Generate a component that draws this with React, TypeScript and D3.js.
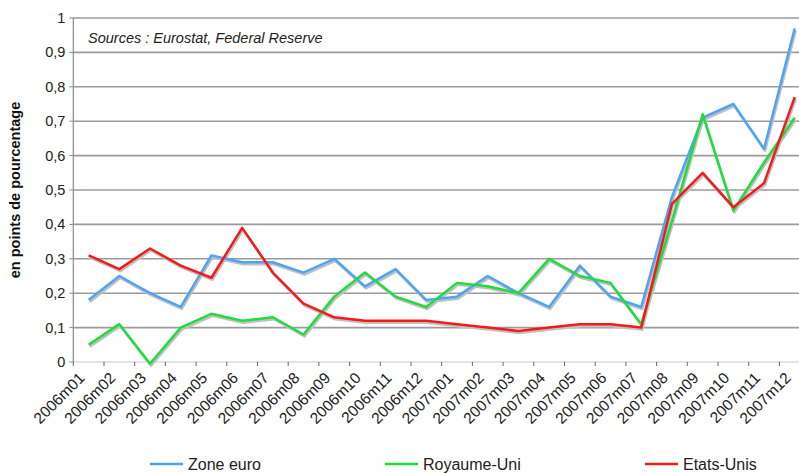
import React from "react";
import * as d3 from "d3";

const categories = [
  "2006m01","2006m02","2006m03","2006m04","2006m05","2006m06","2006m07","2006m08","2006m09","2006m10","2006m11","2006m12",
  "2007m01","2007m02","2007m03","2007m04","2007m05","2007m06","2007m07","2007m08","2007m09","2007m10","2007m11","2007m12",
];
const zoneEuro = [0.18,0.25,0.20,0.16,0.31,0.29,0.29,0.26,0.30,0.22,0.27,0.18,0.19,0.25,0.20,0.16,0.28,0.19,0.16,0.48,0.71,0.75,0.62,0.97];
const royaumeUni = [0.05,0.11,-0.005,0.10,0.14,0.12,0.13,0.08,0.19,0.26,0.19,0.16,0.23,0.22,0.20,0.30,0.25,0.23,0.11,0.41,0.72,0.44,0.58,0.71];
const etatsUnis = [0.31,0.27,0.33,0.28,0.245,0.39,0.26,0.17,0.13,0.12,0.12,0.12,0.11,0.10,0.09,0.10,0.11,0.11,0.10,0.46,0.55,0.45,0.52,0.77];
const yTicks = [0,0.1,0.2,0.3,0.4,0.5,0.6,0.7,0.8,0.9,1];
const seriesNames = ["Zone euro","Royaume-Uni","Etats-Unis"];
const seriesColors = ["#4fa3f5","#1edc3c","#f51a1a"];

export default function App() {
  const W = 799, H = 473;
  const x0 = 73.3, y0 = 362, y1 = 18;
  const x = d3.scaleBand<string>().domain(categories).range([x0, x0 + 24 * 30.7]);
  const y = d3.scaleLinear().domain([0, 1]).range([y0, y1]);
  const line = d3.line<number>()
    .x((_, i) => (x(categories[i]) as number) + x.bandwidth() / 2)
    .y((v) => y(v));
  const data = [zoneEuro, royaumeUni, etatsUnis];
  const font = "Arial, 'Liberation Sans', sans-serif";
  const fmt = (v: number) => (v === 0 ? "0" : v === 1 ? "1" : d3.format(".1f")(v).replace(".", ","));
  const legendX = [150, 385, 645];
  return (
    <svg width={W} height={H} style={{ position: "absolute", left: 0, top: 0, background: "#fff" }} fontFamily={font}>
      {yTicks.filter((t) => t > 0).map((t) => (
        <line key={t} x1={x0} x2={W} y1={y(t)} y2={y(t)} stroke="#9a9a9a" strokeWidth={1.6} />
      ))}
      <line x1={x0} x2={x0} y1={y1} y2={y0} stroke="#8a8a8a" strokeWidth={1.2} />
      <line x1={x0} x2={W} y1={y0} y2={y0} stroke="#c8c8c8" strokeWidth={1.2} />
      {yTicks.map((t) => (
        <g key={t}>
          <line x1={x0 - 4} x2={x0} y1={y(t)} y2={y(t)} stroke="#8a8a8a" />
          <text x={x0 - 8} y={y(t)} dy="0.35em" textAnchor="end" fontSize={14.5} fill="#222">{fmt(t)}</text>
        </g>
      ))}
      {categories.map((c) => (
        <line key={"t" + c} x1={(x(c) as number)} x2={(x(c) as number)} y1={y0} y2={y0 + 4} stroke="#666" />
      ))}
      {categories.map((c) => {
        const cx = (x(c) as number) + x.bandwidth() / 2;
        return (
          <text key={c} transform={`translate(${cx - 3},${y0 + 17}) rotate(-45)`} textAnchor="end" fontSize={15.5} fill="#222">{c}</text>
        );
      })}
      <text transform={`translate(20,190) rotate(-90)`} textAnchor="middle" fontSize={14.5} fontWeight="bold" fill="#111">en points de pourcentage</text>
      <text x={88} y={43} fontSize={14.5} fontStyle="italic" fill="#222">Sources : Eurostat, Federal Reserve</text>
      {data.map((d, k) => (
        <path key={"s" + k} d={line(d) as string} fill="none" stroke="#c0c0c0" strokeWidth={2.5} transform="translate(1,2)" strokeLinejoin="round" />
      ))}
      {data.map((d, k) => (
        <path key={"l" + k} d={line(d) as string} fill="none" stroke={seriesColors[k]} strokeWidth={2.5} strokeLinejoin="round" />
      ))}
      {seriesNames.map((n, k) => (
        <g key={n}>
          <line x1={legendX[k]} x2={legendX[k] + 33} y1={464} y2={464} stroke={seriesColors[k]} strokeWidth={2.5} />
          <text x={legendX[k] + 38} y={464} dy="0.35em" fontSize={16} fill="#222">{n}</text>
        </g>
      ))}
    </svg>
  );
}
